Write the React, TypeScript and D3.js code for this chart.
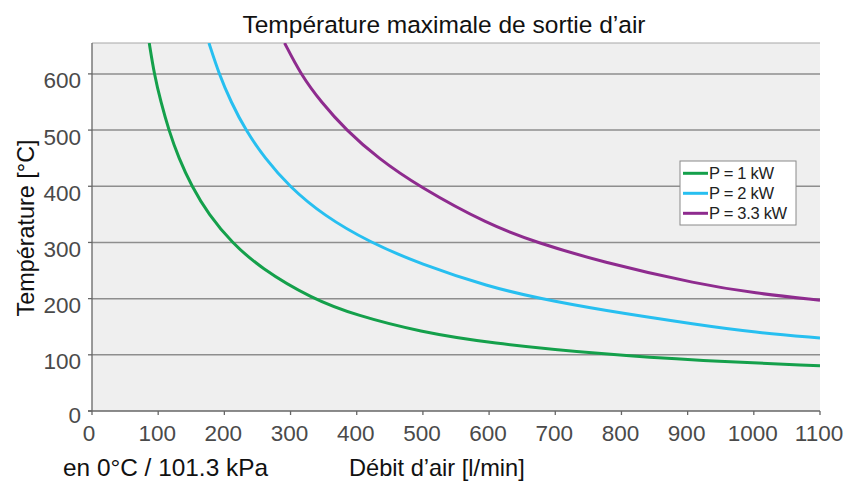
import React from "react";
import * as d3 from "d3";

const xTicks = [0, 100, 200, 300, 400, 500, 600, 700, 800, 900, 1000, 1100];
const yTicks = [0, 100, 200, 300, 400, 500, 600];
const seriesNames = ["P = 1 kW", "P = 2 kW", "P = 3.3 kW"];
const seriesColors = ["#14a04b", "#27bff0", "#8e2b8e"];

const flow1 = [86.5, 94, 104, 116, 131, 150.6, 176, 211, 254, 332, 400, 495.6, 600, 767.6, 918.7, 1100];
const temp1 = [655, 600, 550, 500, 450, 400, 350, 300, 255, 200, 170, 141, 121, 101.5, 89.5, 80.5];
const flow2 = [176.7, 191.9, 210, 232, 261, 297.7, 350, 420, 495.6, 600, 677, 767.6, 918.7, 1000, 1100];
const temp2 = [655, 600, 550, 500, 450, 400, 348, 300, 262, 221, 200, 180, 153, 140, 130];
const flow3 = [291, 315, 346, 384, 432, 493, 600, 672, 767.6, 918.7, 1000, 1100];
const temp3 = [655, 600, 550, 500, 450, 400, 331, 300, 266, 225, 210, 197];

const flows = [flow1, flow2, flow3];
const temps = [temp1, temp2, temp3];

const W = 847, H = 481;
const L = 92, R = 820, T = 43, B = 411;
const FONT = "'Liberation Sans', Arial, Helvetica, sans-serif";

export default function App() {
  const x = d3.scaleLinear().domain([0, 1100]).range([L, R]);
  const y = d3.scaleLinear().domain([0, 655]).range([B, T]);
  const line = d3
    .line<[number, number]>()
    .x((d) => x(d[0]))
    .y((d) => y(d[1]))
    .curve(d3.curveBasis);

  const legendX = 680, legendY = 161;
  return (
    <svg width={W} height={H} style={{ position: "absolute", left: 0, top: 0 }} fontFamily={FONT}>
      <defs>
        <clipPath id="plotclip">
          <rect x={L} y={T} width={R - L} height={B - T} />
        </clipPath>
      </defs>
      <rect x={L} y={T} width={R - L} height={B - T} fill="#efefef" />
      <line x1={L} x2={R} y1={T} y2={T} stroke="#a8a8a8" strokeWidth={1.2} />
      {yTicks.filter((t) => t > 0).map((t) => (
        <line key={t} x1={L} x2={R} y1={y(t)} y2={y(t)} stroke="#8e8e8e" strokeWidth={1.5} />
      ))}
      {/* axes */}
      <line x1={L} x2={L} y1={T} y2={B} stroke="#666" strokeWidth={1.3} />
      <line x1={L - 4} x2={R} y1={B} y2={B} stroke="#666" strokeWidth={1.3} />
      {yTicks.map((t) => (
        <line key={"yt" + t} x1={L - 4} x2={L} y1={y(t)} y2={y(t)} stroke="#666" strokeWidth={1.3} />
      ))}
      {xTicks.map((t) => (
        <line key={"xt" + t} x1={x(t)} x2={x(t)} y1={B} y2={B + 4} stroke="#666" strokeWidth={1.3} />
      ))}
      {yTicks.map((t) => (
        <text key={"yl" + t} x={81} y={y(t) + (t === 0 ? 12 : 14.5)} textAnchor="end" fontSize={22.5} fill="#4a4a4a">
          {t}
        </text>
      ))}
      {xTicks.map((t) => (
        <text key={"xl" + t} x={x(t) - (t === 0 ? 3 : 1)} y={441} textAnchor="middle" fontSize={22.5} fill="#4a4a4a">
          {t}
        </text>
      ))}
      {/* curves */}
      <g clipPath="url(#plotclip)">
        {flows.map((f, i) => (
          <path
            key={i}
            d={line(f.map((v, j) => [v, temps[i][j]] as [number, number])) || ""}
            fill="none"
            stroke={seriesColors[i]}
            strokeWidth={3}
          />
        ))}
      </g>
      {/* legend */}
      <rect x={legendX} y={legendY} width={116} height={64} fill="#ffffff" stroke="#8a8a8a" strokeWidth={1} />
      {seriesNames.map((n, i) => (
        <g key={n}>
          <line x1={683} x2={708} y1={173.3 + i * 20} y2={173.3 + i * 20} stroke={seriesColors[i]} strokeWidth={3} />
          <text x={709} y={178.5 + i * 20} fontSize={16.5} fill="#222" letterSpacing={-0.3}>
            {n}
          </text>
        </g>
      ))}
      {/* titles */}
      <text x={444} y={33} textAnchor="middle" fontSize={24.5} fill="#111">
        Température maximale de sortie d’air
      </text>
      <text
        transform={`translate(33.5,228) rotate(-90)`}
        textAnchor="middle"
        fontSize={23.4}
        fill="#111"
      >
        Température [°C]
      </text>
      <text x={63} y={476} fontSize={24.4} fill="#111">
        en 0°C / 101.3 kPa
      </text>
      <text x={349} y={476} fontSize={23.6} fill="#111">
        Débit d’air [l/min]
      </text>
    </svg>
  );
}
